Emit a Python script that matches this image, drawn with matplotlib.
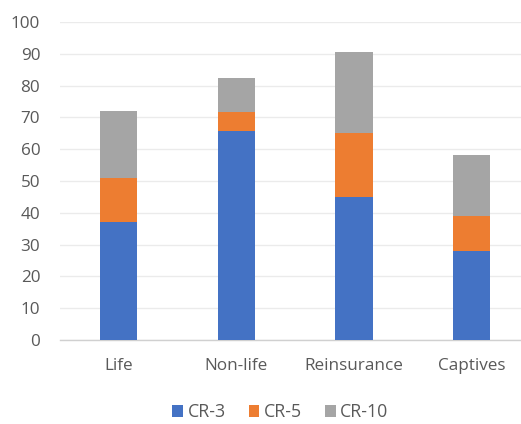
import matplotlib.pyplot as plt
import numpy as np

plt.rcParams['font.family'] = ['Open Sans', 'DejaVu Sans']

categories = ["Life", "Non-life", "Reinsurance", "Captives"]
cr3 = [37.0, 65.7, 45.0, 28.0]
cr5 = [14.0, 6.0, 20.0, 11.0]
cr10 = [21.0, 10.7, 25.5, 19.3]
series_names = ["CR-3", "CR-5", "CR-10"]
colors = ["#4472C4", "#ED7D31", "#A5A5A5"]
yticks = list(range(0, 101, 10))

fig = plt.figure(figsize=(5.21, 4.24), dpi=100)
ax = fig.add_axes([0.1144, 0.198, 0.904, 0.75])

x = np.arange(len(categories))
width = 0.315
bottom = np.zeros(len(categories))
handles = []
for name, vals, c in zip(series_names, [cr3, cr5, cr10], colors):
    h = ax.bar(x, vals, width, bottom=bottom, color=c, label=name, zorder=3)
    handles.append(h)
    bottom += np.array(vals)

ax.set_xlim(-0.5, len(categories) - 0.5)
ax.set_ylim(0, 100)
ax.set_yticks(yticks)
ax.set_xticks(x)
ax.set_xticklabels(categories)
ax.yaxis.grid(True, color="#EBEBEB", linewidth=1.0, zorder=0)
ax.set_axisbelow(True)
for s in ["top", "right", "left"]:
    ax.spines[s].set_visible(False)
ax.spines["bottom"].set_color("#D0D0D0")
ax.spines["bottom"].set_linewidth(1.0)
ax.tick_params(axis="both", length=0, labelsize=12.3, colors="#595959")
ax.tick_params(axis="y", pad=14)
ax.tick_params(axis="x", pad=13)

fig.legend(handles, series_names, loc="center", bbox_to_anchor=(0.538, 0.028),
           ncol=3, frameon=False, fontsize=12.8, handlelength=0.6,
           handleheight=0.6, handletextpad=0.25, columnspacing=1.3,
           labelcolor="#595959")

fig.savefig("out.png", dpi=100)
